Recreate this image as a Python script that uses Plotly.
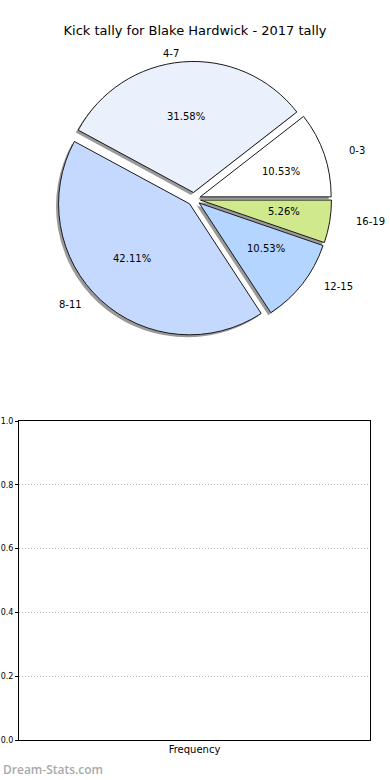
import math
import plotly.graph_objects as go

# ---------------- data ----------------
categories = ["0-3", "4-7", "8-11", "12-15", "16-19"]
kick_counts = [2, 6, 8, 2, 1]
slice_colors = ["#ffffff", "#eaf1fd", "#c5d9ff", "#b3d5ff", "#d0e98c"]
frequency_values = []
y_tick_values = [0.0, 0.2, 0.4, 0.6, 0.8, 1.0]
chart_title = "Kick tally for Blake Hardwick - 2017 tally"

# ---------------- geometry ----------------
W, H = 390, 780
PULL = 0.05
CX, CY = 194.0, 199.0          # pie centre in px
R = 131.0                      # pie radius in px
HALF = R * (1 + PULL)
SH_DX, SH_DY = -2.5, 2.5       # shadow offset in px
TXT_CX, TXT_CY = 194.0, 198.0  # text placement centre (reference layout)
TXT_RX, TXT_RY = 141.0, 126.0  # text placement radii (reference layout)

FONT = "DejaVu Sans"

total = sum(kick_counts)
# first slice starts at 3 o'clock and runs counter-clockwise
ROTATION = 90 - 360 * kick_counts[0] / total


def pie_domain(dx=0.0, dy=0.0):
    cx, cy = CX + dx, CY + dy
    return dict(
        x=[(cx - HALF) / W, (cx + HALF) / W],
        y=[1 - (cy + HALF) / H, 1 - (cy - HALF) / H],
    )


fig = go.Figure()

# shadow pie
fig.add_trace(go.Pie(
    labels=categories, values=kick_counts, sort=False,
    direction="counterclockwise", rotation=ROTATION,
    pull=[PULL] * len(categories),
    marker=dict(colors=["#9a9a9a"] * len(categories), line=dict(width=0)),
    textinfo="none", hoverinfo="skip", showlegend=False,
    domain=pie_domain(SH_DX, SH_DY),
))

# main pie
fig.add_trace(go.Pie(
    labels=categories, values=kick_counts, sort=False,
    direction="counterclockwise", rotation=ROTATION,
    pull=[PULL] * len(categories),
    marker=dict(colors=slice_colors, line=dict(color="#1a1a1a", width=1)),
    textinfo="none", showlegend=False,
    domain=pie_domain(),
))

# empty frequency plot
fig.add_trace(go.Scatter(x=frequency_values, y=frequency_values,
                         mode="markers", showlegend=False,
                         xaxis="x", yaxis="y"))

# labels and percentages (matplotlib style placement)
annotations = []
cum = 0
for cat, v in zip(categories, kick_counts):
    mid = 2 * math.pi * (cum + v / 2) / total
    cum += v
    c, s = math.cos(mid), math.sin(mid)
    px_c = TXT_CX + PULL * TXT_RX * c
    py_c = TXT_CY - PULL * TXT_RY * s
    lx, ly = px_c + 1.1 * TXT_RX * c, py_c - 1.1 * TXT_RY * s
    tx, ty = px_c + 0.6 * TXT_RX * c, py_c - 0.6 * TXT_RY * s
    annotations.append(dict(
        x=lx / W, y=1 - ly / H, xref="paper", yref="paper",
        text=cat, showarrow=False,
        xanchor="left" if c > 0 else "right", yanchor="middle",
        font=dict(family=FONT, size=10, color="black"),
    ))
    annotations.append(dict(
        x=tx / W, y=1 - ty / H, xref="paper", yref="paper",
        text=f"{100 * v / total:.2f}%", showarrow=False,
        xanchor="center", yanchor="middle",
        font=dict(family=FONT, size=10, color="black"),
    ))

annotations.append(dict(
    x=1 / W, y=1 - 769 / H, xref="paper", yref="paper",
    text="Dream-Stats.com", showarrow=False,
    xanchor="left", yanchor="middle",
    font=dict(family="Open Sans", size=12, color="#a9a9a9", weight=600),
))

fig.update_layout(
    width=W, height=H,
    margin=dict(l=0, r=0, t=0, b=0, autoexpand=False),
    paper_bgcolor="white", plot_bgcolor="white",
    title=dict(text=chart_title, x=0.5, xanchor="center",
               y=1 - 30 / H, yanchor="middle", automargin=False,
               font=dict(family=FONT, size=13, color="black")),
    xaxis=dict(domain=[19 / W, 370 / W], range=[0, 1], automargin=False,
               showticklabels=False, ticks="", showgrid=False,
               zeroline=False, showline=True, mirror=True,
               linecolor="black", linewidth=1,
               title=dict(text="Frequency", standoff=5,
                          font=dict(family=FONT, size=10, color="black"))),
    yaxis=dict(domain=[1 - 740 / H, 1 - 421 / H], range=[0, 1],
               automargin=False,
               tickvals=y_tick_values,
               ticktext=[f"{t:.1f}" for t in y_tick_values],
               ticks="outside", ticklen=3, tickcolor="black",
               tickfont=dict(family=FONT, size=8, color="black"),
               showgrid=True, gridcolor="#b8b8b8", griddash="1px,2px",
               gridwidth=1, zeroline=False, showline=True, mirror=True,
               linecolor="black", linewidth=1),
    annotations=annotations,
    font=dict(family=FONT),
)

fig.write_html(
    "out.html",
    config={"displayModeBar": False},
    post_script="document.body.style.margin='0px';"
                "document.body.style.overflow='hidden';",
)
